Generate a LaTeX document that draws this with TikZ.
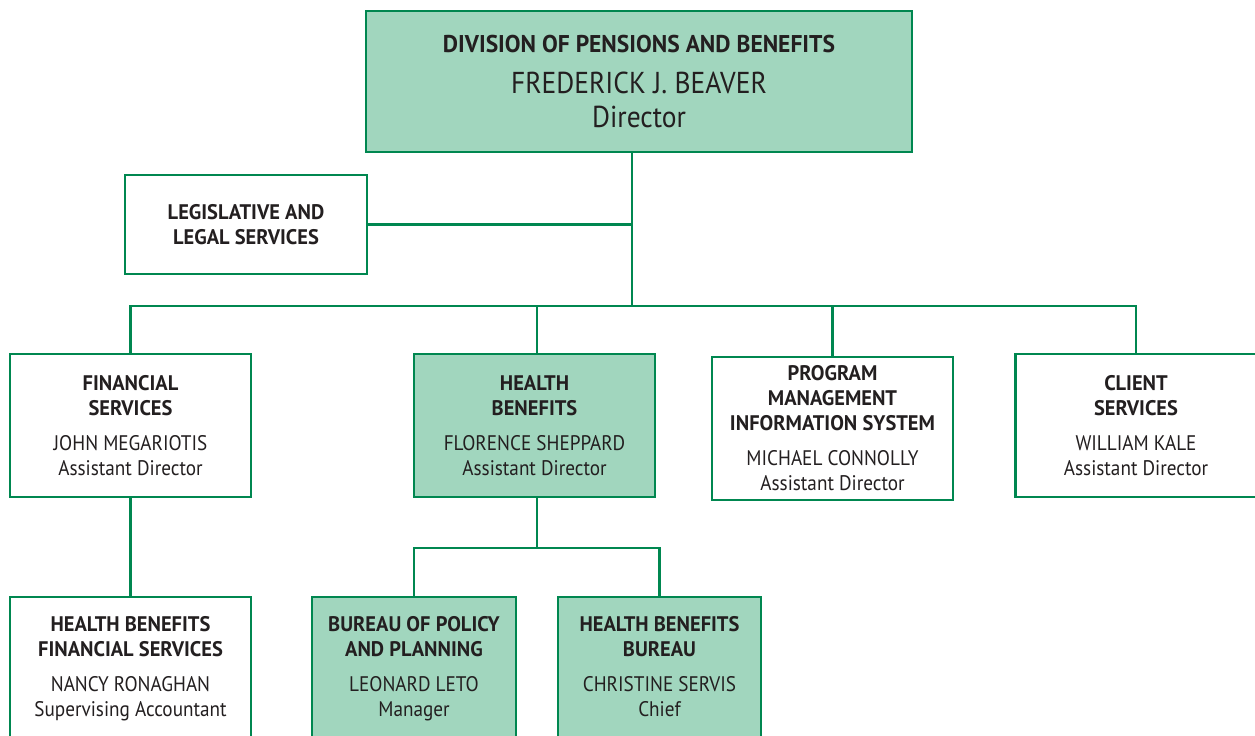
\documentclass[tikz,border=0pt]{standalone}
\usepackage{fontspec}
\setmainfont[FakeStretch=0.91,BoldFont={PT Sans Bold},BoldFeatures={FakeStretch=0.97}]{PT Sans}
\usepackage{xcolor}
\usetikzlibrary{calc}
\definecolor{boxgreen}{RGB}{161,214,190}
\definecolor{linegreen}{RGB}{0,135,80}
\definecolor{inkgray}{RGB}{35,31,32}

\begin{document}
\begin{tikzpicture}[x=0.2mm,y=-0.2mm]

                \tikzstyle{unit}  = [rectangle, draw=linegreen, line width=1.6pt, fill=white, text=inkgray, align=center, inner sep=0pt, font=\fontsize{12}{14.2}\selectfont]
                \tikzstyle{shaded}  = [unit, fill=boxgreen]
                \tikzstyle{link}  = [draw=linegreen, line width=1.6pt]
                \useasboundingbox (0,0) rectangle (1255,736);
                \clip (0,0) rectangle (1255,736);
                \node [shaded, minimum width=109.2mm, minimum height=28.2mm](dir) at (639,81.5) {{\fontsize{13.8}{16}\selectfont\textbf{DIVISION OF PENSIONS AND BENEFITS}}\\[3.4mm]{\fontsize{17.2}{20}\selectfont FREDERICK J. BEAVER}\\[1.8mm]{\fontsize{17.2}{20}\selectfont Director}};
                \node [unit, minimum width=48.4mm, minimum height=19.8mm](legal) at (246,224.5) {\textbf{LEGISLATIVE AND}\\\textbf{LEGAL SERVICES}};
                \node [unit, minimum width=48.2mm, minimum height=28.6mm](fin) at (130.5,425.5) {\textbf{FINANCIAL}\\\textbf{SERVICES}\\[2mm]JOHN MEGARIOTIS\\Assistant Director};
                \node [shaded, minimum width=48.2mm, minimum height=28.6mm](health) at (534.5,425.5) {\textbf{HEALTH}\\\textbf{BENEFITS}\\[2mm]FLORENCE SHEPPARD\\Assistant Director};
                \node [unit, minimum width=48.2mm, minimum height=28.6mm](pmis) at (832.5,428.5) {\textbf{PROGRAM}\\\textbf{MANAGEMENT}\\\textbf{INFORMATION SYSTEM}\\[2mm]MICHAEL CONNOLLY\\Assistant Director};
                \node [unit, minimum width=48.2mm, minimum height=28.6mm](client) at (1136,425.5) {\textbf{CLIENT}\\\textbf{SERVICES}\\[2mm]WILLIAM KALE\\Assistant Director};
                \node [unit, minimum width=48.2mm, minimum height=28.6mm](hbfs) at (130.5,668.5) {\textbf{HEALTH BENEFITS}\\\textbf{FINANCIAL SERVICES}\\[2mm]NANCY RONAGHAN\\Supervising Accountant};
                \node [shaded, minimum width=40.8mm, minimum height=28.6mm](policy) at (414,668.5) {\textbf{BUREAU OF POLICY}\\\textbf{AND PLANNING}\\[2mm]LEONARD LETO\\Manager};
                \node [shaded, minimum width=40.6mm, minimum height=28.6mm](hbb) at (659.5,668.5) {\textbf{HEALTH BENEFITS}\\\textbf{BUREAU}\\[2mm]CHRISTINE SERVIS\\Chief\vphantom{g}};
                \coordinate (bus) at (632,306);
                \coordinate (split) at (537,548);
                \draw [link] (dir.south -| bus) -- (bus);
                \draw [link] (legal.east) -- (legal.east -| bus);
                \draw [link] (fin.north) -- (fin.north |- bus) -- (client.north |- bus) -- (client.north);
                \draw [link] (health.north -| split) -- (split |- bus);
                \draw [link] (pmis.north) -- (pmis.north |- bus);
                \draw [link] (fin.south) -- (hbfs.north);
                \draw [link] (health.south -| split) -- (split);
                \draw [link] (policy.north) |- (split) -| (hbb.north);
\end{tikzpicture}
\end{document}
